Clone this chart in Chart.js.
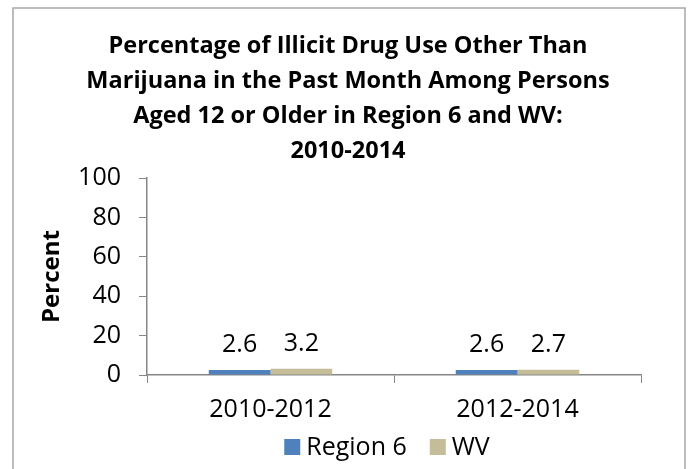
<!DOCTYPE html>
<html>
<head>
<meta charset="utf-8">
<script src="https://cdn.jsdelivr.net/npm/chart.js@4/dist/chart.umd.min.js"></script>
<style>
  html, body { margin: 0; padding: 0; background: #fff; }
  #wrap { width: 688px; height: 469px; }
</style>
</head>
<body>
<div id="wrap"><canvas id="drugChart" width="688" height="469"></canvas></div>
<script>
const FONT = "'Open Sans', 'Liberation Sans', sans-serif";

const titleLines = [
  'Percentage of Illicit Drug Use Other Than',
  'Marijuana in the Past Month Among Persons',
  'Aged 12 or Older in Region 6 and WV:',
  '2010-2014'
];
const categories = ['2010-2012', '2012-2014'];
const region6 = [2.6, 2.6];
const wv = [3.2, 2.7];
const yTicks = [0, 20, 40, 60, 80, 100];

const AXIS_GREY = '#868686';
const TEXT_SIZE = 25;

// frame around the chart, as in the source document
const framePlugin = {
  id: 'frame',
  afterLayout(chart) {
    // title is centred on the whole frame, not on the plot area
    chart.titleBlock.right = chart.width - 5;
  },
  beforeDraw(chart) {
    const ctx = chart.ctx;
    ctx.save();
    ctx.fillStyle = '#fff';
    ctx.fillRect(0, 0, chart.width, chart.height);
    ctx.strokeStyle = '#a6a6a6';
    ctx.lineWidth = 1.5;
    ctx.strokeRect(13, 8, 672, chart.height + 10);
    ctx.restore();
  }
};

// value labels above each bar
const valueLabels = {
  id: 'valueLabels',
  afterDatasetsDraw(chart) {
    const ctx = chart.ctx;
    ctx.save();
    ctx.font = TEXT_SIZE + 'px ' + FONT;
    ctx.fillStyle = '#000';
    ctx.textAlign = 'center';
    ctx.textBaseline = 'middle';
    chart.data.datasets.forEach((ds, i) => {
      chart.getDatasetMeta(i).data.forEach((bar, j) => {
        ctx.fillText(ds.data[j].toFixed(1), bar.x, bar.y - 25);
      });
    });
    ctx.restore();
  }
};

// legend under the category labels, roughly centred on the plot area
const bottomLegend = {
  id: 'bottomLegend',
  afterDraw(chart) {
    const ctx = chart.ctx;
    const area = chart.chartArea;
    const box = 16, gap = 6, spacing = 23, y = 447;
    ctx.save();
    ctx.font = TEXT_SIZE + 'px ' + FONT;
    ctx.textBaseline = 'middle';
    const items = chart.data.datasets.map(ds => ({
      label: ds.label,
      color: ds.backgroundColor,
      w: ctx.measureText(ds.label).width
    }));
    const total = items.reduce((s, it) => s + box + gap + it.w, 0) + spacing * (items.length - 1);
    let x = (area.left + area.right) / 2 - 7 - total / 2;
    items.forEach(it => {
      ctx.fillStyle = it.color;
      ctx.fillRect(x, y - box / 2, box, box);
      ctx.fillStyle = '#000';
      ctx.fillText(it.label, x + box + gap, y + 1);
      x += box + gap + it.w + spacing;
    });
    ctx.restore();
  }
};

new Chart(document.getElementById('drugChart'), {
  type: 'bar',
  data: {
    labels: categories,
    datasets: [
      { label: 'Region 6', data: region6, backgroundColor: '#4f81bd' },
      { label: 'WV', data: wv, backgroundColor: '#c4bd97' }
    ]
  },
  options: {
    responsive: false,
    animation: false,
    devicePixelRatio: 1,
    layout: { padding: { left: 13, right: 47, top: 8, bottom: 0 } },
    datasets: { bar: { categoryPercentage: 0.5, barPercentage: 1.0 } },
    plugins: {
      legend: { display: false },
      tooltip: { enabled: false },
      title: {
        display: true,
        text: titleLines,
        color: '#000',
        font: { family: FONT, size: 23.5, weight: 'bold', lineHeight: 1.49 },
        padding: { top: 21, bottom: 9 }
      }
    },
    scales: {
      x: {
        grid: { drawOnChartArea: false, color: AXIS_GREY, tickLength: 8, offset: true },
        border: { color: AXIS_GREY, width: 1.5 },
        ticks: { color: '#000', font: { family: FONT, size: TEXT_SIZE }, padding: 12 },
        afterFit(scale) { scale.height = 94; }
      },
      y: {
        min: 0,
        max: 100,
        afterBuildTicks(scale) { scale.ticks = yTicks.map(v => ({ value: v })); },
        grid: { drawOnChartArea: false, color: AXIS_GREY, tickLength: 8 },
        border: { color: AXIS_GREY, width: 1.5 },
        ticks: { color: '#000', font: { family: FONT, size: TEXT_SIZE }, padding: 18 },
        title: {
          display: true,
          text: 'Percent',
          color: '#000',
          font: { family: FONT, size: 24, weight: 'bold' },
          padding: { top: 25, bottom: 0 }
        },
        afterFit(scale) { scale.width = 134; }
      }
    }
  },
  plugins: [framePlugin, valueLabels, bottomLegend]
});
</script>
</body>
</html>
